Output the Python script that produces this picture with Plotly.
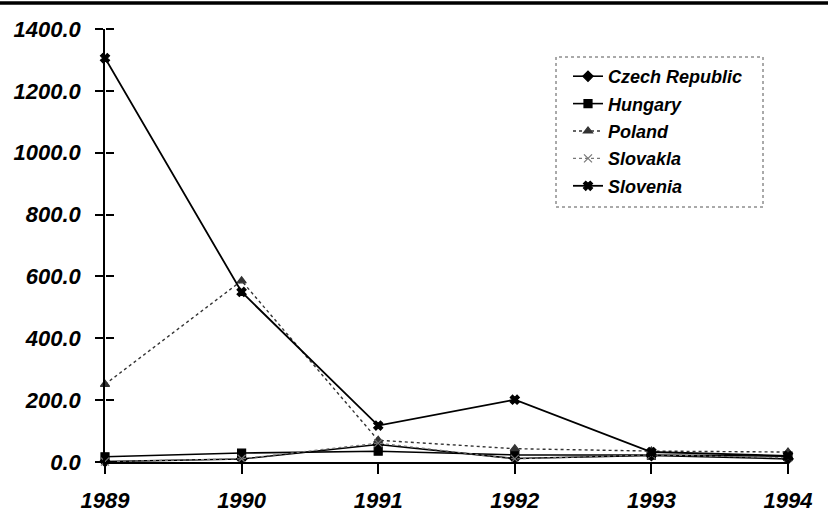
import plotly.graph_objects as go

years = [1989, 1990, 1991, 1992, 1993, 1994]
czech = [1.4, 9.7, 56.7, 11.1, 20.8, 10.0]
hungary = [17.0, 28.9, 35.0, 23.0, 22.5, 18.8]
poland = [251.1, 585.8, 70.3, 43.0, 35.3, 32.2]
slovakia = [1.3, 10.4, 61.2, 10.0, 23.2, 13.4]
slovenia = [1306.0, 549.7, 117.7, 201.3, 32.3, 19.8]
y_ticks = [0, 200, 400, 600, 800, 1000, 1200, 1400]

series = [
    ("Czech Republic", czech, "diamond", "solid", "black", 1.6),
    ("Hungary", hungary, "square", "solid", "black", 1.6),
    ("Poland", poland, "triangle-up", "dot", "#333333", 1.4),
    ("Slovakla", slovakia, "x-thin-open", "dot", "#777777", 1.2),
    ("Slovenia", slovenia, "x", "solid", "black", 1.8),
]

font_fam = "Liberation Sans, Arial, sans-serif"
fig = go.Figure()
for i, (name, vals, sym, dash, col, w) in enumerate(series):
    fig.add_trace(go.Scatter(
        x=years, y=vals, name=name, mode="lines+markers",
        line=dict(color=col, width=w, dash=dash),
        marker=dict(symbol=sym, size=8, color=col, line=dict(color=col, width=1.2)),
        legendgroup=name, cliponaxis=False,
    ))

# invisible copy on the overlay axis so its right-pointing ticks are drawn
fig.add_trace(go.Scatter(x=years, y=czech, yaxis="y2", mode="lines",
                         opacity=0, showlegend=False, hoverinfo="skip"))

tickfont = dict(family=font_fam, size=22, color="black", weight="bold", style="italic")
fig.update_layout(
    width=828, height=513,
    margin=dict(l=105, r=40, t=29, b=51),
    paper_bgcolor="white", plot_bgcolor="white",
    showlegend=True,
    legend=dict(
        x=(568 - 105) / 683, y=(462 - 58) / 433, xanchor="left", yanchor="top",
        font=dict(family=font_fam, size=18, color="black", weight="bold", style="italic"),
        bgcolor="rgba(0,0,0,0)", borderwidth=0,
        tracegroupgap=1, itemwidth=30,
    ),
    xaxis=dict(
        range=[1989, 1994], tickvals=years, ticktext=[str(y) for y in years],
        showgrid=False, zeroline=False, showline=True, linecolor="black", linewidth=1.5,
        ticks="outside", ticklen=10, tickwidth=1.5, tickcolor="black",
        tickfont=tickfont, ticklabelstandoff=8, automargin=False,
    ),
    yaxis=dict(
        range=[0, 1400], tickvals=y_ticks, tickformat=".1f",
        showgrid=False, zeroline=False, showline=True, linecolor="black", linewidth=1.5,
        ticks="outside", ticklen=8, tickwidth=1.5, tickcolor="black",
        tickfont=tickfont, ticklabelstandoff=10, automargin=False,
    ),
    yaxis2=dict(
        range=[0, 1400], overlaying="y", side="right", anchor="free", position=0,
        tickvals=y_ticks,
        showticklabels=False, showgrid=False, zeroline=False, showline=False,
        ticks="outside", ticklen=8, tickwidth=1.5, tickcolor="black", automargin=False,
    ),
    shapes=[
        dict(type="line", xref="paper", yref="paper",
             x0=-105 / 683, x1=1 + 40 / 683, y0=1 + 26 / 433, y1=1 + 26 / 433,
             line=dict(color="black", width=3.5)),
        dict(type="rect", xref="paper", yref="paper",
             x0=(556 - 105) / 683, x1=(763 - 105) / 683,
             y0=(462 - 207) / 433, y1=(462 - 57) / 433,
             line=dict(color="#555555", width=1, dash="dot")),
    ],
)
fig.write_html("out.html", config={"displayModeBar": False},
               post_script="document.body.style.margin='0';")
